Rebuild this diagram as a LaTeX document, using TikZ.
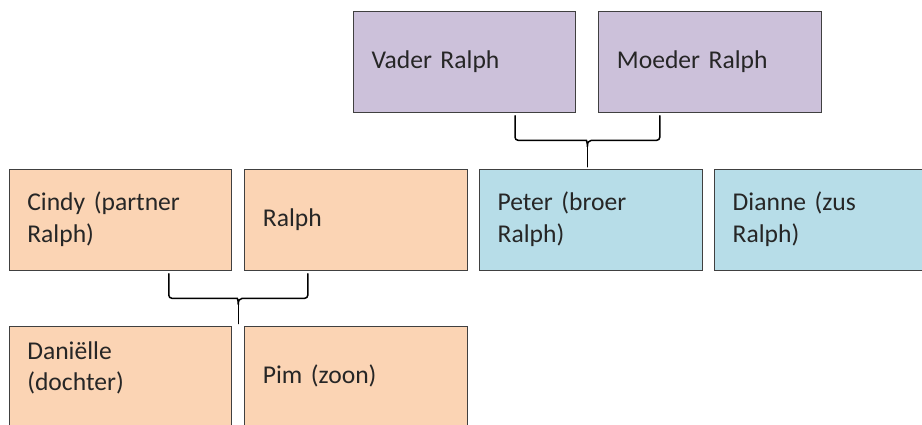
\documentclass[tikz,border=0pt]{standalone}
\usepackage{fontspec}
\setmainfont{Carlito}
\usetikzlibrary{calc,positioning}

\definecolor{oudersfill}{HTML}{CCC1DA}
\definecolor{gezinfill}{HTML}{FBD4B4}
\definecolor{broerzusfill}{HTML}{B7DDE8}

\tikzset{
  persoon/.style={draw=black!75,line width=1pt,align=left,
    minimum width=222.4pt,minimum height=101.5pt,
    text width=186.4pt,inner xsep=18pt,
    text height=19.2pt,text depth=6.4pt,text=black!85,
    font=\fontsize{25.6}{31.3}\selectfont},
  tweeregels/.style={text depth=37.7pt},
  famlink/.style={draw=black,line width=1.5pt}
}

% brace under two parents, pointing at the child row
\newcommand{\famlink}[3]{%
  \path ($(#1.south)!0.205!(#2.south)$) ++(0,2.5) coordinate (armL)
        ($(#2.south)!0.205!(#1.south)$) ++(0,2.5) coordinate (armR);
  \coordinate (tip) at ($(armL)!0.5!(armR)$);
  \draw[famlink,rounded corners=3pt] (armL) |- ($(tip)+(-4,24.5)$)
    [sharp corners] .. controls +(3,0) and +(0,-4) .. ($(tip)+(0,31)$)
    .. controls +(0,-4) and +(-3,0) .. ($(tip)+(4,24.5)$)
    [rounded corners=3pt] -| (armR);
  \draw[famlink] ($(tip)+(0,31)$) -- ($(tip |- #3.north)+(0,-2)$);
}

\begin{document}
\begin{tikzpicture}[x=1pt,y=-1pt,line cap=round]
  \useasboundingbox (0,0) rectangle (922,424);
  \clip (0,0) rectangle (922,424);

  % ouders van Ralph
  \node[persoon,fill=oudersfill] (vader) at (464.7,62) {Vader Ralph};
  \node[persoon,fill=oudersfill,right=22pt of vader] (moeder) {Moeder Ralph};

  % Ralph, partner, broer en zus
  \node[persoon,tweeregels,fill=gezinfill] (cindy) at (120.5,220) {Cindy (partner\\Ralph)};
  \node[persoon,fill=gezinfill,right=12.2pt of cindy] (ralph) {Ralph};
  \node[persoon,tweeregels,fill=broerzusfill,right=11.3pt of ralph] (peter) {Peter (broer\\Ralph)};
  \node[persoon,tweeregels,fill=broerzusfill,right=11.7pt of peter] (dianne) {Dianne (zus\\Ralph)};

  % kinderen
  \node[persoon,fill=gezinfill,text depth=54.6pt,below=54.3pt of cindy] (danielle) {Daniëlle\\(dochter)};
  \node[persoon,fill=gezinfill,right=12.2pt of danielle] (pim) {Pim (zoon)};

  \famlink{vader}{moeder}{peter}
  \famlink{cindy}{ralph}{danielle}
\end{tikzpicture}
\end{document}
